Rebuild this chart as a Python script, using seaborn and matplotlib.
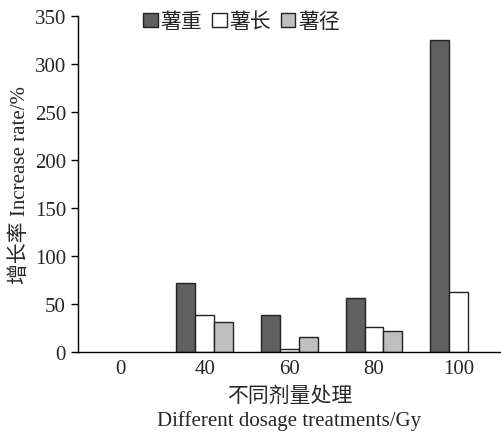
import matplotlib
matplotlib.use("Agg")
import matplotlib.pyplot as plt
import numpy as np
import pandas as pd
import seaborn as sns

# Data (nan = no bar drawn)
doses = ["0", "40", "60", "80", "100"]
series = ["薯重", "薯长", "薯径"]
weight = [np.nan, 72, 38.5, 56, 325]
length = [np.nan, 38.5, 3, 26, 62.5]
diameter = [np.nan, 31, 15.5, 22, np.nan]
yticks = [0, 50, 100, 150, 200, 250, 300, 350]

colors = ["#606060", "#ffffff", "#bfbfbf"]

sns.set_style("ticks")
plt.rcParams["font.family"] = ["Liberation Serif", "Noto Sans CJK SC"]
plt.rcParams["axes.unicode_minus"] = False

df = pd.DataFrame({
    "dose": doses * 3,
    "series": [s for s in series for _ in doses],
    "value": weight + length + diameter,
})

fig = plt.figure(figsize=(5.02, 4.35), dpi=100)
ax = fig.add_axes([0.155, 0.188, 0.843, 0.773])

sns.barplot(data=df, x="dose", y="value", hue="series", order=doses,
            hue_order=series, palette=colors, width=0.67, gap=0,
            edgecolor="#222222", linewidth=1.0, ax=ax)

ax.set_ylim(0, 350)
ax.set_xlim(-0.5, 4.5)
ax.set_yticks(yticks)
ax.tick_params(axis="y", length=5, width=1, direction="out", labelsize=15, color="black")
ax.tick_params(axis="x", length=0, labelsize=15, pad=5)
for side in ["top", "right"]:
    ax.spines[side].set_visible(False)
for side in ["left", "bottom"]:
    ax.spines[side].set_color("black")
    ax.spines[side].set_linewidth(1.0)

ax.set_xlabel("不同剂量处理\nDifferent dosage treatments/Gy", fontsize=15, labelpad=6, linespacing=1.3)
ax.set_ylabel("增长率 Increase rate/%", fontsize=15, labelpad=3)

handles, labels = ax.get_legend_handles_labels()
ax.legend(handles, labels, ncol=3, frameon=False, loc="upper left",
          bbox_to_anchor=(0.11, 1.065), fontsize=15, handlelength=0.7,
          handleheight=0.7, handletextpad=0.15, columnspacing=0.45)

fig.savefig("out.png", dpi=100)
